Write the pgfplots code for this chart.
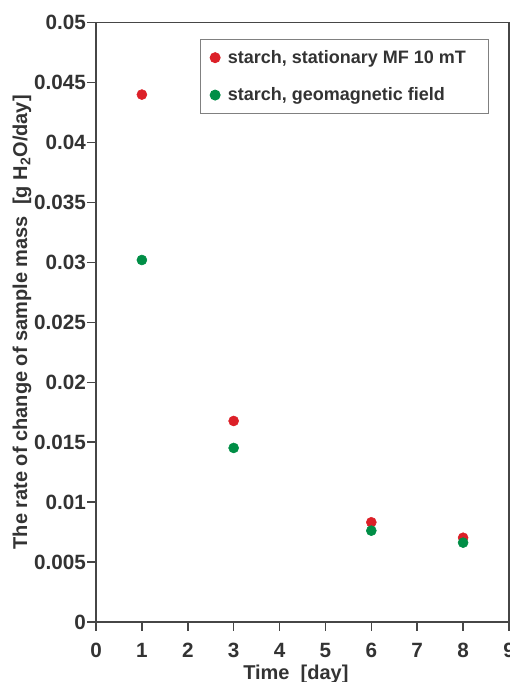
\documentclass[border=0pt]{standalone}
\usepackage{fontspec}
\setmainfont{Liberation Sans}
\usepackage{pgfplots}
\pgfplotsset{compat=1.18}
\definecolor{redpt}{RGB}{220,32,40}
\definecolor{greenpt}{RGB}{0,142,70}
\definecolor{axgray}{RGB}{70,70,70}
\begin{document}
\begin{tikzpicture}
\path[use as bounding box] (0,0) rectangle (382.5pt,511.5pt);
\begin{axis}[
  at={(72pt,45pt)}, anchor=origin,
  scale only axis,
  width=309.75pt, height=449.5pt,
  xmin=0, xmax=9, ymin=0, ymax=0.05,
  xtick={0,1,...,9},
  ytick={0,0.005,0.01,0.015,0.02,0.025,0.03,0.035,0.04,0.045,0.05},
  scaled y ticks=false,
  yticklabel style={/pgf/number format/fixed,/pgf/number format/precision=3, xshift=2.5pt},
  xticklabel style={yshift=-6pt},
  /pgf/number format/assume math mode=true,
  tick align=outside,
  tick pos=left,
  major tick length=6.5pt,
  axis line style={axgray, line width=1.1pt},
  every tick/.style={axgray, line width=1.1pt},
  tick label style={font=\fontsize{15.5}{18}\selectfont\bfseries, text=black!80},
  label style={font=\fontsize{15}{18}\selectfont\bfseries, text=black!80},
  xlabel={Time~~[day]},
  ylabel={The rate of change of sample mass~~[g H\textsubscript{2}O/day]},
  xlabel style={at={(axis description cs:0.484,-0.087)}, anchor=center},
  ylabel style={at={(axis description cs:-0.179,0.5)}, anchor=center},
  legend style={
    at={(axis description cs:0.9516,0.9727)}, anchor=north east,
    draw=black!50, line width=0.7pt,
    font=\fontsize{13.5}{16}\selectfont\bfseries,
    text=black!80,
    row sep=12.75pt,
    inner xsep=6pt, inner ysep=6pt,
    cells={anchor=west},
  },
  legend image code/.code={\path[draw=none,fill=none] (-5.25pt,0pt) -- (7.5pt,0pt);\draw[mark repeat=2,mark phase=2] plot coordinates {(-3pt,0pt)(0pt,0pt)(3pt,0pt)};},
]
\addplot[only marks, mark=*, mark size=3.75pt, color=redpt] coordinates {
  (1,0.0440) (3,0.01677) (6,0.00832) (8,0.00703)
};
\addlegendentry{starch, stationary MF 10 mT\makebox[9pt]{}}
\addplot[only marks, mark=*, mark size=3.75pt, color=greenpt] coordinates {
  (1,0.0302) (3,0.01452) (6,0.00762) (8,0.00662)
};
\addlegendentry{starch, geomagnetic field}
\end{axis}
\end{tikzpicture}
\end{document}
